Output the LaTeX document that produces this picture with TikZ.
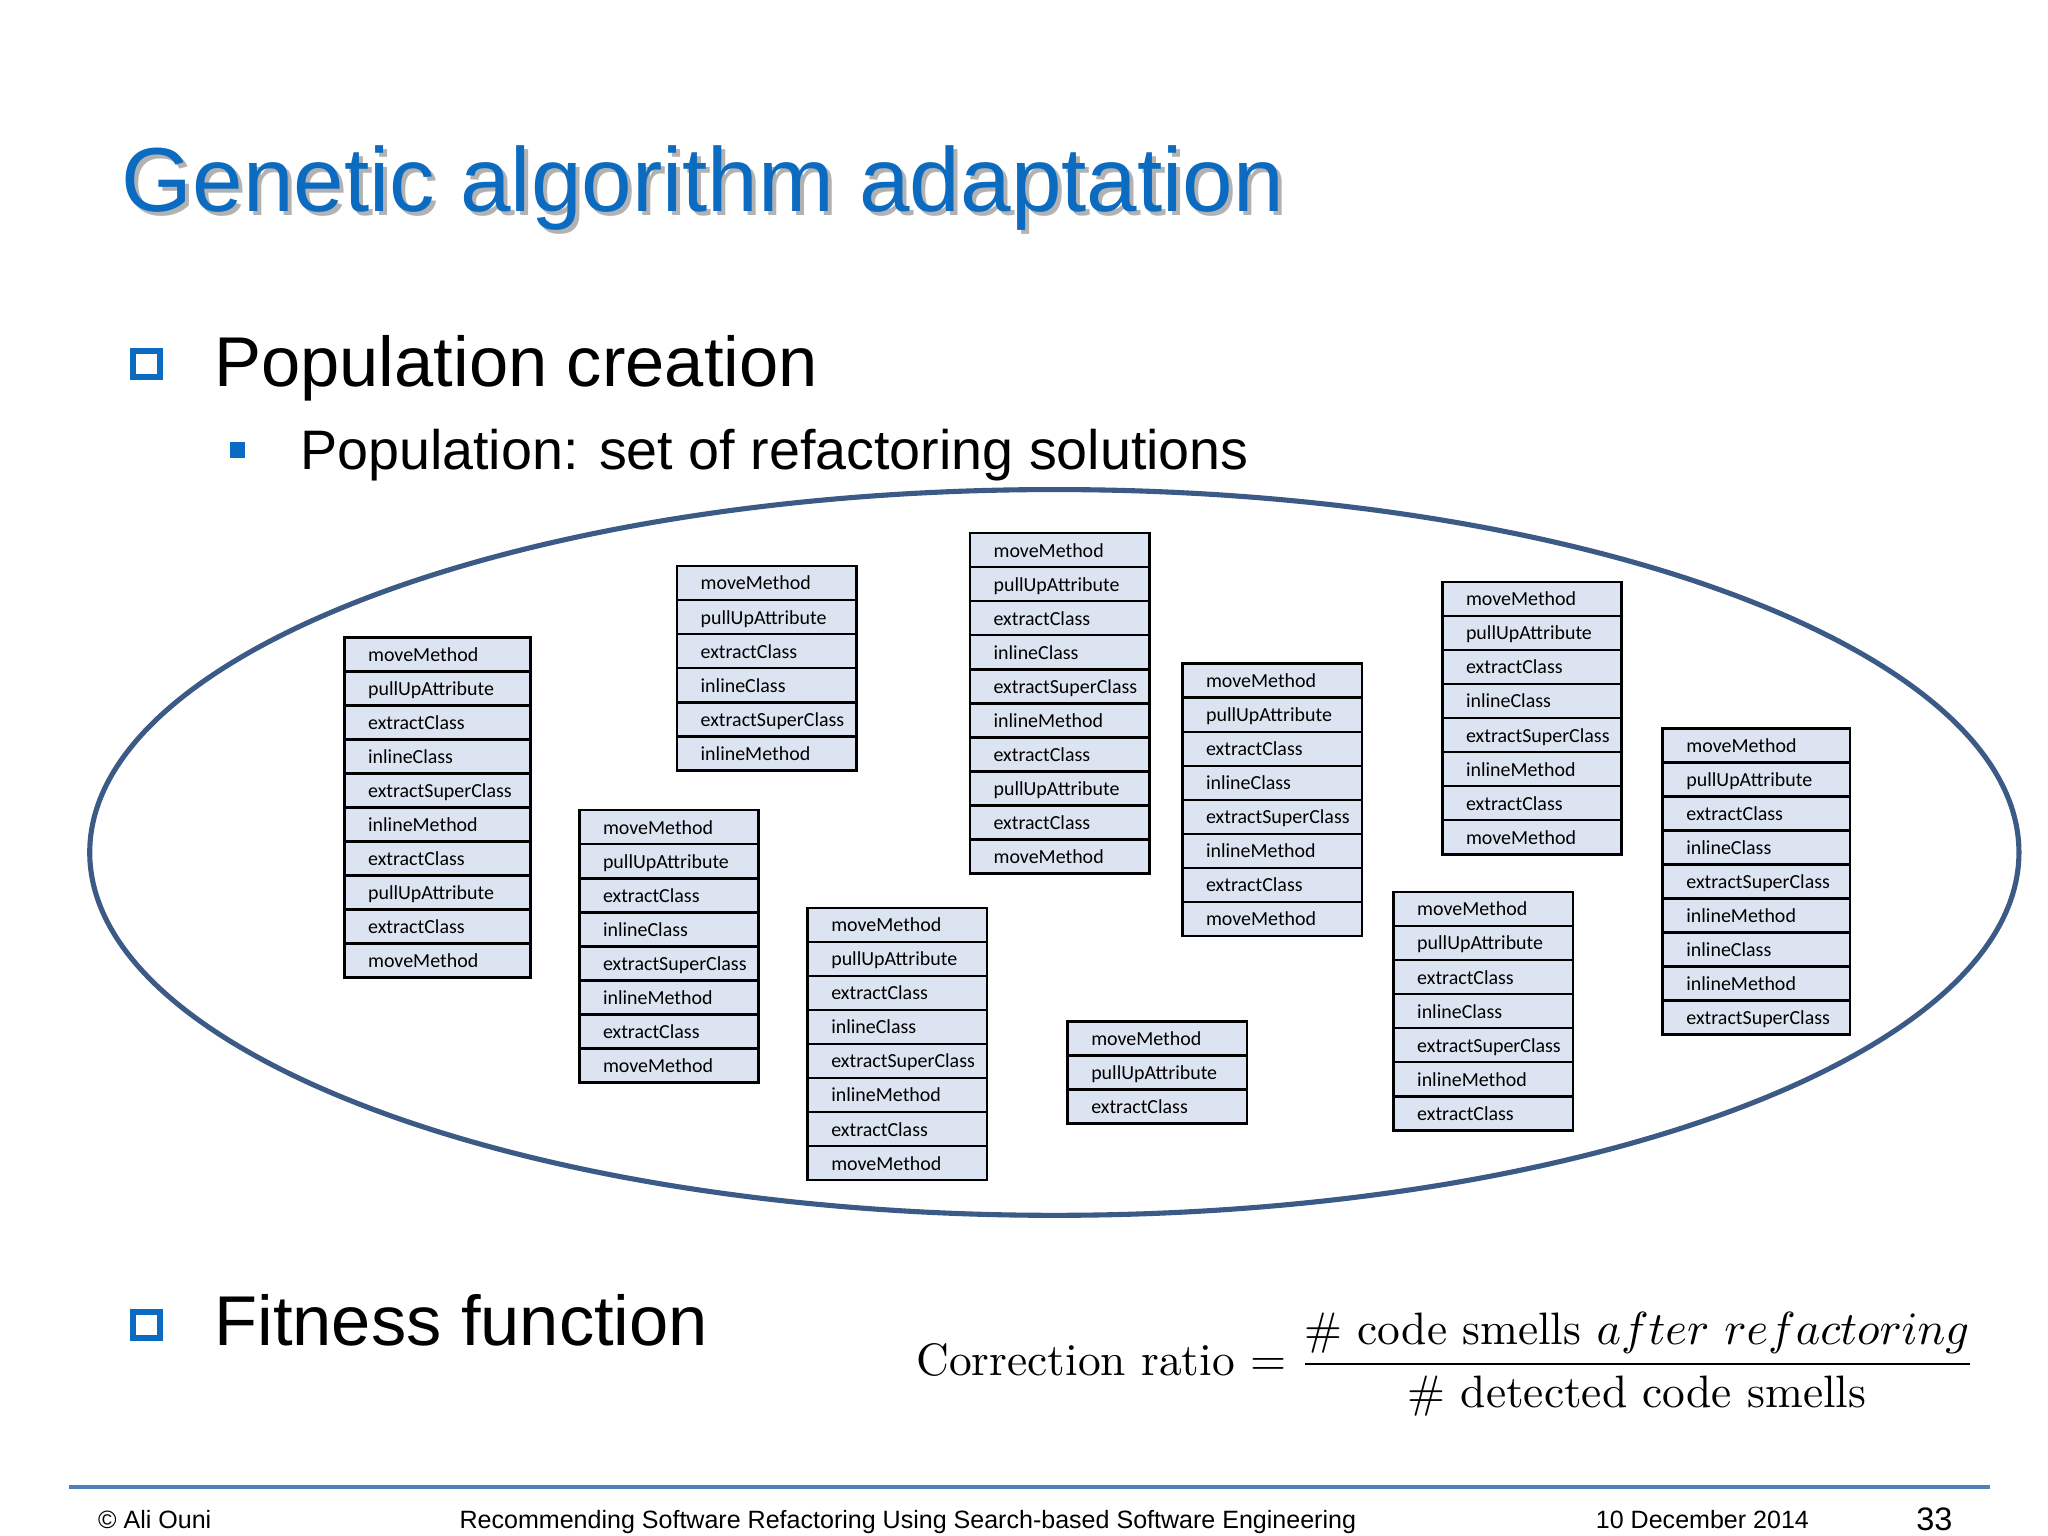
\documentclass[tikz,border=0pt]{standalone}
\usepackage{amsmath}
\usepackage{fontspec}
\setmainfont{Liberation Sans}
\newfontfamily\cellfont{Carlito}
\newfontfamily\eqfont{Latin Modern Roman}
\usetikzlibrary{shadows,shapes.geometric}
\definecolor{ttl}{HTML}{0B6BC0}
\definecolor{ell}{HTML}{3B5A86}
\definecolor{cellbg}{HTML}{DCE4F2}
\definecolor{foot}{HTML}{4F81BD}
\tikzset{
  cellbox/.style={draw=black,line width=0.55pt,fill=cellbg,minimum height=0.258cm,inner sep=0pt,anchor=north west,font=\cellfont\fontsize{4.3}{5}\selectfont,text depth=0pt,align=left},
  bigbul/.style={draw=ttl,line width=1.3pt,fill=white,minimum size=0.2cm,inner sep=0pt,drop shadow={shadow xshift=0.6pt,shadow yshift=-0.6pt,fill=ttl!60!black,opacity=1}},
}
\newcommand{\mycol}[5]{% name, x, y, width, list
  \foreach \t [count=\k] in {#5} {
    \node[cellbox,minimum width=#4cm,text width=#4cm-0.12cm] (#1-\k) at (#2,{-#3-(\k-1)*0.258}) {\hspace*{0.12cm}\t};
  }
}
\begin{document}
\begin{tikzpicture}
\useasboundingbox[fill=white] (0,0) rectangle (15.52,-11.64);
\node[anchor=base west,text=gray!60,font=\fontsize{19.6}{24}\selectfont] (tsh) at (0.83,-1.63) {Genetic algorithm adaptation};
\node[anchor=base west,text=ttl,font=\fontsize{19.6}{24}\selectfont] (title) at (0.8,-1.6) {Genetic algorithm adaptation};
\node[bigbul] (b1) at (1.11,-2.76) {};
\node[anchor=base west,font=\fontsize{15.2}{20}\selectfont] (pc) at (1.5,-2.93) {Population creation};
\node[fill=ttl,minimum size=0.12cm,inner sep=0pt] (b2) at (1.8,-3.41) {};
\node[anchor=base west,font=\fontsize{12}{14}\selectfont] (ps) at (2.15,-3.56) {Population: set of refactoring solutions};
\node[draw=ell,line width=1.1pt,ellipse,minimum width=14.62cm,minimum height=5.5cm,inner sep=0pt] (pop) at (7.99,-6.46) {};
\mycol{a}{2.6}{4.82}{1.41}{moveMethod,pullUpAttribute,extractClass,inlineClass,extractSuperClass,inlineMethod,extractClass,pullUpAttribute,extractClass,moveMethod}
\mycol{b}{5.12}{4.28}{1.36}{moveMethod,pullUpAttribute,extractClass,inlineClass,extractSuperClass,inlineMethod}
\mycol{c}{4.38}{6.13}{1.36}{moveMethod,pullUpAttribute,extractClass,inlineClass,extractSuperClass,inlineMethod,extractClass,moveMethod}
\mycol{d}{6.11}{6.87}{1.36}{moveMethod,pullUpAttribute,extractClass,inlineClass,extractSuperClass,inlineMethod,extractClass,moveMethod}
\mycol{e}{7.34}{4.03}{1.36}{moveMethod,pullUpAttribute,extractClass,inlineClass,extractSuperClass,inlineMethod,extractClass,pullUpAttribute,extractClass,moveMethod}
\mycol{f}{8.08}{7.73}{1.36}{moveMethod,pullUpAttribute,extractClass}
\mycol{g}{8.95}{5.02}{1.36}{moveMethod,pullUpAttribute,extractClass,inlineClass,extractSuperClass,inlineMethod,extractClass,moveMethod}
\mycol{h}{10.92}{4.40}{1.36}{moveMethod,pullUpAttribute,extractClass,inlineClass,extractSuperClass,inlineMethod,extractClass,moveMethod}
\mycol{i}{10.55}{6.75}{1.36}{moveMethod,pullUpAttribute,extractClass,inlineClass,extractSuperClass,inlineMethod,extractClass}
\mycol{j}{12.59}{5.51}{1.42}{moveMethod,pullUpAttribute,extractClass,inlineClass,extractSuperClass,inlineMethod,inlineClass,inlineMethod,extractSuperClass}
\node[bigbul] (b3) at (1.11,-10.04) {};
\node[anchor=base west,font=\fontsize{15.2}{20}\selectfont] (ff) at (1.5,-10.2) {Fitness function};
\node[anchor=west,font=\eqfont\fontsize{9.8}{12}\selectfont] (eq) at (6.82,-10.34) {Correction ratio $=\dfrac{\text{\# code smells } after\ refactoring}{\text{\# detected code smells}}$};
\coordinate (fl) at (0.52,-11.27);
\coordinate (fr) at (15.08,-11.27);
\draw[foot,line width=1pt] (fl) -- (fr);
\node[anchor=base west,font=\fontsize{5.4}{6}\selectfont] (f1) at (0.62,-11.58) {© Ali Ouni};
\node[anchor=base,font=\fontsize{5.4}{6}\selectfont] (f2) at (6.88,-11.58) {Recommending Software Refactoring Using Search-based Software Engineering};
\node[anchor=base west,font=\fontsize{5.4}{6}\selectfont] (f3) at (11.97,-11.58) {10 December 2014};
\node[anchor=base east,font=\fontsize{7}{8}\selectfont] (f4) at (14.92,-11.6) {33};
\end{tikzpicture}
\end{document}
